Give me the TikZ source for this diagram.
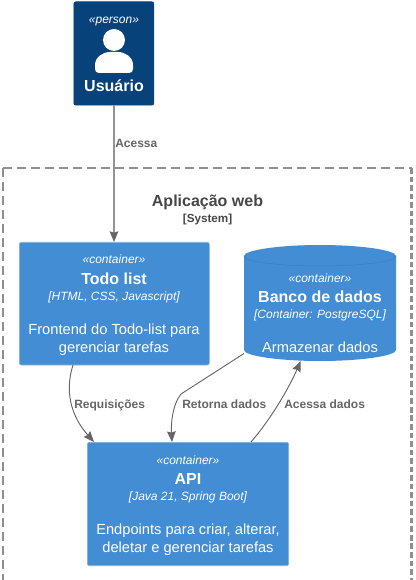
\documentclass[tikz,border=0pt]{standalone}
\usepackage{fontspec}
\setmainfont{Liberation Sans}
\usetikzlibrary{arrows.meta}
\definecolor{personblue}{HTML}{08427B}
\definecolor{contblue}{HTML}{438DD5}
\definecolor{contedge}{HTML}{3C7FC0}
\definecolor{linegray}{HTML}{666666}
\definecolor{bordergray}{HTML}{8F8F8F}
\tikzset{
  x=0.75pt,y=-0.75pt,
  box/.style={rectangle,rounded corners=1.5pt,inner sep=0pt,anchor=north west,fill=contblue,draw=contedge!60!white,line width=0.5pt},
  personbox/.style={box,fill=personblue,draw=personblue},
  txt/.style={text=white,inner sep=0pt,anchor=base,font=\fontsize{11pt}{13pt}\selectfont},
  stereo/.style={txt,font=\fontsize{9pt}{11pt}\itshape\selectfont},
  ttl/.style={txt,font=\fontsize{12pt}{14pt}\bfseries\selectfont},
  tech/.style={txt,font=\fontsize{9pt}{11pt}\itshape\selectfont},
  edgelabel/.style={text=linegray,inner sep=0pt,anchor=base west,font=\fontsize{9pt}{11pt}\bfseries\selectfont},
  rel/.style={draw=linegray,line width=0.7pt,-{Stealth[length=8pt,width=6.5pt,inset=1pt]}},
}
\begin{document}
\begin{tikzpicture}
\useasboundingbox (0,0) rectangle (415,580);
\fill[white] (0,0) rectangle (415,580);
% boundary
\coordinate (bnw) at (3,168);
\coordinate (bse) at (411.5,585);
\draw[bordergray,line width=1.5pt,dash pattern=on 6.5pt off 4pt] (bnw) -- (bnw -| bse);
\draw[bordergray,line width=1.5pt,dash pattern=on 6.5pt off 4pt] (bnw) -- (bnw |- bse);
\draw[bordergray,line width=1.6pt,dash pattern=on 4.2pt off 2.2pt] (bnw -| bse) -- (bse);
\node[inner sep=0pt,anchor=base,text=black!72,font=\fontsize{12pt}{14pt}\bfseries\selectfont] (btitle) at (207.5,207) {Aplicação web};
\node[inner sep=0pt,anchor=base,text=black!72,font=\fontsize{8.75pt}{10pt}\bfseries\selectfont] (bsub) at (207.5,223) {[System]};
% person
\node[personbox,minimum width=60pt,minimum height=77.5pt] (user) at (73.5,1.5) {};
\node[stereo] (ustereo) at (114,24) {«person»};
\fill[white] (114,40) circle (11);
\fill[white] (95,69) -- (95,65) .. controls (95,57) and (103,52) .. (110,52) -- (118,52) .. controls (125,52) and (133,57) .. (133,65) -- (133,69) .. controls (133,71.5) and (131.5,73) .. (129,73) -- (99,73) .. controls (96.5,73) and (95,71.5) .. (95,69) -- cycle;
\node[ttl] (uname) at (114,92) {Usuário};
% todo
\node[box,minimum width=142.5pt,minimum height=92pt] (todo) at (19,242) {};
\node[stereo] (tstereo) at (114,264) {«container»};
\node[ttl] (tname) at (114,284) {Todo list};
\node[tech] (ttech) at (114,300) {[HTML, CSS, Javascript]};
\node[txt] (td1) at (114,334) {Frontend do Todo-list para};
\node[txt] (td2) at (114,352) {gerenciar tarefas};
% db
\path[fill=contblue] (244,256) .. controls (244,250) and (280,245) .. (320,245) .. controls (360,245) and (396,250) .. (396,256) -- (396,350) .. controls (396,356) and (360,361) .. (320,361) .. controls (280,361) and (244,356) .. (244,350) -- cycle;
\draw[contedge,line width=0.4pt] (244,256) .. controls (244,262) and (280,266) .. (320,266) .. controls (360,266) and (396,262) .. (396,256);
\node[stereo] (dstereo) at (320,282) {«container»};
\node[ttl] (dname) at (320,302) {Banco de dados};
\node[tech] (dtech) at (320,318) {[Container: PostgreSQL]};
\node[txt] (dd1) at (320,352) {Armazenar dados};
\coordinate (dbleft) at (244,353.5);
\coordinate (dbbottom) at (300.7,361);
% api
\node[box,minimum width=151pt,minimum height=92.5pt] (api) at (87,442) {};
\node[stereo] (astereo) at (188,464) {«container»};
\node[ttl] (aname) at (188,484) {API};
\node[tech] (atech) at (188,500) {[Java 21, Spring Boot]};
\node[txt] (ad1) at (188,534) {Endpoints para criar, alterar,};
\node[txt] (ad2) at (188,552) {deletar e gerenciar tarefas};
% connectors
\coordinate (uout) at (114,105);
\coordinate (tin) at (114,242);
\draw[draw=black!42,line width=1pt,-{Stealth[length=8pt,width=6.5pt,inset=1pt,color=linegray]}] (uout) -- (tin);
\node[edgelabel] (l1) at (115,148) {Acessa};
\coordinate (tout) at (73,365);
\coordinate (ain1) at (94,442);
\draw[rel] (tout) .. controls (65,390) and (70,415) .. (ain1);
\node[edgelabel] (l2) at (74,408) {Requisições};
\coordinate (ain2) at (172,442);
\draw[rel] (dbleft) -- (181,394) .. controls (172,405) and (171,425) .. (ain2);
\node[edgelabel] (l3) at (182,408) {Retorna dados};
\coordinate (aout) at (251,442);
\draw[rel] (aout) .. controls (270,420) and (288,390) .. (dbbottom);
\node[edgelabel] (l4) at (284,408) {Acessa dados};
\end{tikzpicture}
\end{document}
